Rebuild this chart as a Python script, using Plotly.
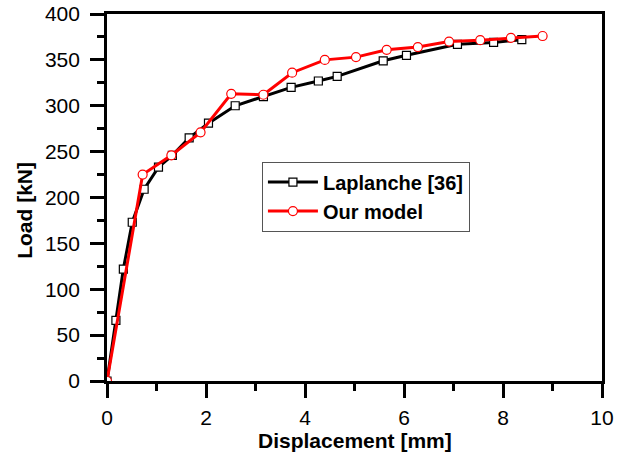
import plotly.graph_objects as go

lap_x = [0.0, 0.18, 0.33, 0.51, 0.75, 1.04, 1.32, 1.66, 2.05, 2.59, 3.16, 3.72, 4.27, 4.65, 5.58, 6.05, 7.08, 7.81, 8.38]
lap_y = [0, 66, 122, 173, 209, 233, 246, 265, 281, 300, 310, 320, 327, 332, 349, 355, 367, 369, 372]

our_x = [0.0, 0.72, 1.30, 1.89, 2.51, 3.16, 3.74, 4.40, 5.03, 5.65, 6.28, 6.91, 7.54, 8.16, 8.80]
our_y = [0, 225, 246, 271, 313, 312, 336, 350, 353, 361, 364, 370, 371.5, 374, 376]

x_ticks = [0, 2, 4, 6, 8, 10]
y_ticks = [0, 50, 100, 150, 200, 250, 300, 350, 400]

FONT = "Liberation Sans, Arial"

fig = go.Figure()
fig.add_trace(go.Scatter(
    x=lap_x, y=lap_y, mode="lines+markers", name="Laplanche [36]",
    line=dict(color="black", width=3),
    marker=dict(symbol="square", size=8, color="white", line=dict(color="black", width=1.2)),
))
fig.add_trace(go.Scatter(
    x=our_x, y=our_y, mode="lines+markers", name="Our model",
    line=dict(color="#ff0000", width=3),
    marker=dict(symbol="circle", size=9, color="white", line=dict(color="#ff0000", width=1.2)),
))

axis_common = dict(
    showline=True, linecolor="black", linewidth=2.7, mirror=True,
    ticks="outside", tickcolor="black", tickwidth=2.7, ticklen=14,
    showgrid=False, zeroline=False, automargin=False,
    tickfont=dict(family=FONT, size=21, color="black"),
)

fig.update_xaxes(
    range=[0, 10], tickvals=x_ticks, ticklabelstandoff=2,
    minor=dict(ticks="outside", ticklen=7, tickwidth=2.7, tickcolor="black", dtick=1),
    **axis_common,
)
fig.update_yaxes(
    range=[0, 400], tickvals=y_ticks, ticklabelstandoff=6,
    minor=dict(ticks="outside", ticklen=7, tickwidth=2.7, tickcolor="black", dtick=25),
    **axis_common,
)

fig.update_layout(
    width=629, height=464,
    margin=dict(l=107, r=27, t=14, b=83),
    paper_bgcolor="white", plot_bgcolor="white",
    showlegend=True,
    legend=dict(
        x=0.313, y=0.598, xanchor="left", yanchor="top",
        bordercolor="#555555", borderwidth=1, bgcolor="white",
        font=dict(family=FONT, size=20, color="black", weight="bold"),
        tracegroupgap=0, itemwidth=50,
    ),
    annotations=[
        dict(text="<b>Displacement [mm]</b>", xref="paper", yref="paper",
             x=0.5, y=-0.161, xanchor="center", yanchor="middle", showarrow=False,
             font=dict(family=FONT, size=21, color="black")),
        dict(text="<b>Load [kN]</b>", xref="paper", yref="paper", textangle=-90,
             x=-0.166, y=0.466, xanchor="center", yanchor="middle", showarrow=False,
             font=dict(family=FONT, size=21, color="black")),
    ],
)

fig.write_html("out.html")
